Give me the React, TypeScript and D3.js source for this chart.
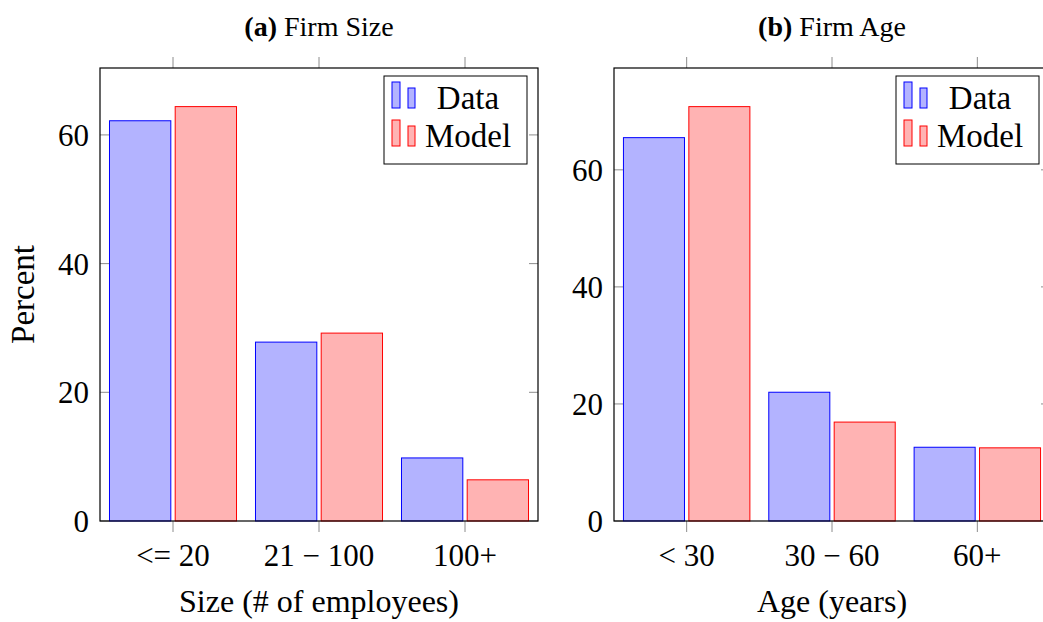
import React, { useEffect, useRef } from 'react';
import * as d3 from 'd3';

// panel (a): firm size
const sizeCategories = ['<=\u200520', '21\u2005\u2212\u2005100', '100+'];
const sizeData = [62.2, 27.8, 9.8];
const sizeModel = [64.4, 29.2, 6.4];
const sizeTicks = [0, 20, 40, 60];

// panel (b): firm age
const ageCategories = ['<\u200530', '30\u2005\u2212\u200560', '60+'];
const ageData = [65.5, 22.0, 12.6];
const ageModel = [70.8, 16.9, 12.5];
const ageTicks = [0, 20, 40, 60];

const seriesNames = ['Data', 'Model'];
const FONT = "'Liberation Serif', 'DejaVu Serif', serif";

const App = () => {
    const svgRef = useRef(null);

    useEffect(() => {
        const svg = d3.select(svgRef.current);
        svg.selectAll('*').remove();

        const width = 1043;
        const height = 622;
        svg.attr('width', width).attr('height', height);

        const top = 68;
        const bottom = 521;

        const fills = ['#b3b3ff', '#ffb3b3'];
        const strokes = ['#0000ff', '#ff0000'];

        const drawPanel = (opts) => {
            const { x0, x1, yMax, cats, data, model, ticks, title, bold, xLabel } = opts;
            const g = svg.append('g');

            const x = d3.scaleLinear().domain([-0.5, cats.length - 0.5]).range([x0, x1]);
            const y = d3.scaleLinear().domain([0, yMax]).range([bottom, top]);
            const unit = x(1) - x(0);
            const barW = 0.42 * unit;
            const gap = 0.015 * unit;

            // bars
            [data, model].forEach((vals, s) => {
                g.selectAll('.bar' + s)
                    .data(vals)
                    .enter()
                    .append('rect')
                    .attr('x', (d, i) => s === 0 ? x(i) - gap - barW : x(i) + gap)
                    .attr('y', d => y(d))
                    .attr('width', barW)
                    .attr('height', d => bottom - y(d))
                    .attr('fill', fills[s])
                    .attr('stroke', strokes[s])
                    .attr('stroke-width', 1);
            });

            // y ticks, inward on both sides
            ticks.forEach(t => {
                g.append('line').attr('x1', x0).attr('x2', x0 + 9)
                    .attr('y1', y(t)).attr('y2', y(t))
                    .attr('stroke', '#8c8c8c').attr('stroke-width', 1);
                g.append('line').attr('x1', x1).attr('x2', x1 - 9)
                    .attr('y1', y(t)).attr('y2', y(t))
                    .attr('stroke', '#8c8c8c').attr('stroke-width', 1);
                g.append('text')
                    .attr('x', x0 - 11)
                    .attr('y', y(t) + 11)
                    .attr('text-anchor', 'end')
                    .style('font-family', FONT)
                    .style('font-size', '31px')
                    .text(t);
            });

            // x ticks, outward at top and bottom
            cats.forEach((c, i) => {
                g.append('line').attr('x1', x(i)).attr('x2', x(i))
                    .attr('y1', bottom).attr('y2', bottom + 11)
                    .attr('stroke', '#8c8c8c').attr('stroke-width', 1);
                g.append('line').attr('x1', x(i)).attr('x2', x(i))
                    .attr('y1', top).attr('y2', top - 11)
                    .attr('stroke', '#8c8c8c').attr('stroke-width', 1);
                g.append('text')
                    .attr('x', x(i))
                    .attr('y', bottom + 45)
                    .attr('text-anchor', 'middle')
                    .style('font-family', FONT)
                    .style('font-size', '31px')
                    .text(c);
            });

            // frame
            g.append('rect')
                .attr('x', x0).attr('y', top)
                .attr('width', x1 - x0).attr('height', bottom - top)
                .attr('fill', 'none').attr('stroke', '#000').attr('stroke-width', 1.2);

            // title
            const tt = g.append('text')
                .attr('x', (x0 + x1) / 2)
                .attr('y', 36)
                .attr('text-anchor', 'middle')
                .style('font-family', FONT)
                .style('font-size', '28px');
            tt.append('tspan').style('font-weight', 'bold').text(bold);
            tt.append('tspan').text(' ' + title);

            // x label
            g.append('text')
                .attr('x', (x0 + x1) / 2)
                .attr('y', 612)
                .attr('text-anchor', 'middle')
                .style('font-family', FONT)
                .style('font-size', '32px')
                .text(xLabel);

            // legend
            const lw = 143;
            const lh = 88;
            const lx = x1 - 11 - lw;
            const ly = top + 8;
            const lg = g.append('g');
            lg.append('rect')
                .attr('x', lx).attr('y', ly).attr('width', lw).attr('height', lh)
                .attr('fill', '#fff').attr('stroke', '#000').attr('stroke-width', 1);
            seriesNames.forEach((name, s) => {
                const base = ly + 32 + s * 38;
                lg.append('rect')
                    .attr('x', lx + 8).attr('y', base - 26).attr('width', 8).attr('height', 26)
                    .attr('fill', fills[s]).attr('stroke', strokes[s]);
                lg.append('rect')
                    .attr('x', lx + 24).attr('y', base - 20).attr('width', 7).attr('height', 20)
                    .attr('fill', fills[s]).attr('stroke', strokes[s]);
                lg.append('text')
                    .attr('x', lx + 84)
                    .attr('y', base + 1)
                    .attr('text-anchor', 'middle')
                    .style('font-family', FONT)
                    .style('font-size', '33px')
                    .text(name);
            });
        };

        drawPanel({
            x0: 100, x1: 538, yMax: 70.4,
            cats: sizeCategories, data: sizeData, model: sizeModel, ticks: sizeTicks,
            bold: '(a)', title: 'Firm Size', xLabel: 'Size (# of employees)'
        });
        drawPanel({
            x0: 614, x1: 1050, yMax: 77.4,
            cats: ageCategories, data: ageData, model: ageModel, ticks: ageTicks,
            bold: '(b)', title: 'Firm Age', xLabel: 'Age (years)'
        });

        // y axis label
        svg.append('text')
            .attr('transform', `translate(34,${(top + bottom) / 2}) rotate(-90)`)
            .attr('text-anchor', 'middle')
            .style('font-family', FONT)
            .style('font-size', '33px')
            .text('Percent');
    }, []);

    return (
        <svg ref={svgRef} style={{ position: 'absolute', left: 0, top: 0, background: '#fff' }}></svg>
    );
};

export default App;
